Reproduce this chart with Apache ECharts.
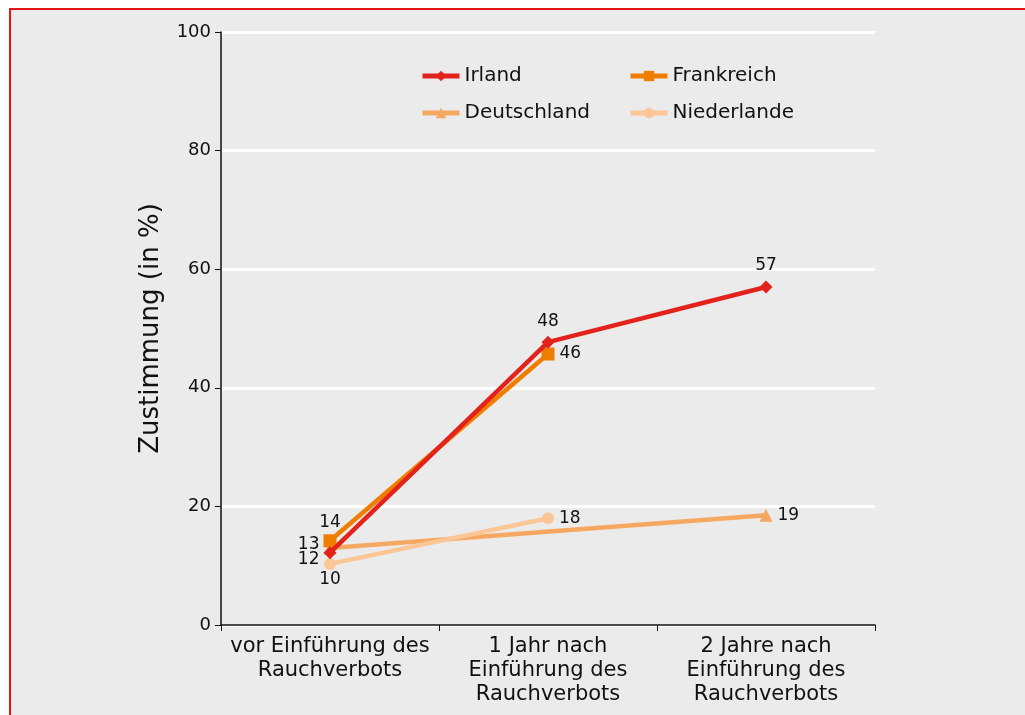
<!DOCTYPE html>
<html>
<head>
<meta charset="utf-8">
<script src="https://cdn.jsdelivr.net/npm/echarts@6/dist/echarts.min.js"></script>
<style>
  html, body { margin: 0; padding: 0; background: #fff; }
  #frame { position: absolute; left: 9px; top: 8px; width: 1100px; height: 800px;
           background: #ebebeb; border-left: 2px solid #e3141b; border-top: 2px solid #e3141b; box-sizing: border-box; }
  #chart { position: absolute; left: 0; top: 0; width: 1025px; height: 715px; }
</style>
</head>
<body>
<div id="frame"></div>
<div id="chart"></div>
<script>
const categories = ['vor Einführung des\nRauchverbots', '1 Jahr nach\nEinführung des\nRauchverbots', '2 Jahre nach\nEinführung des\nRauchverbots'];
const irland = [12.2, 47.7, 57.0];
const frankreich = [14.2, 45.7, null];
const deutschland = [13.0, null, 18.5];
const niederlande = [10.3, 18.0, null];

const font = '"DejaVu Sans", sans-serif';

// label setup per point: [position, distance, offsetY]
const withLabels = (values, labels) =>
    values.map((v, i) => v === null ? null : {
        value: v,
        label: { position: labels[i][0], distance: labels[i][1], offset: [0, labels[i][2]] }
    });

const mkSeries = (name, values, labels, color, symbol, z, connect) => ({
    name, type: 'line', data: withLabels(values, labels), z,
    connectNulls: !!connect,
    symbol, symbolSize: symbol === 'circle' ? 12 : 13,
    lineStyle: { color, width: 4.5 },
    itemStyle: { color },
    label: {
        show: true, color: '#111', fontSize: 17, fontFamily: font,
        formatter: p => Math.round(p.value)
    }
});

const chart = echarts.init(document.getElementById('chart'));

const legendBase = (name, left, top) => ({
    data: [name], left, top, itemWidth: 37, itemHeight: 13,
    lineStyle: { width: 5 },
    textStyle: { fontSize: 20, fontFamily: font, color: '#111' }
});

chart.setOption({
    backgroundColor: 'transparent',
    animation: false,
    legend: [
        legendBase('Irland', 415, 61),
        legendBase('Frankreich', 623, 61),
        legendBase('Deutschland', 415, 98),
        legendBase('Niederlande', 623, 98)
    ],
    grid: { left: 221, right: 150, top: 32, bottom: 90 },
    xAxis: {
        type: 'category', data: categories, boundaryGap: true,
        axisLine: { lineStyle: { color: '#111', width: 1.5 } },
        axisTick: { show: true, interval: 0, length: 6, lineStyle: { color: '#111' } },
        axisLabel: { interval: 0, fontSize: 21, fontFamily: font, color: '#111', lineHeight: 24, margin: 10 }
    },
    yAxis: {
        type: 'value', min: 0, max: 100, interval: 20,
        name: 'Zustimmung (in %)', nameLocation: 'middle', nameGap: 57,
        nameTextStyle: { fontSize: 26, fontFamily: font, color: '#111' },
        axisLine: { show: true, lineStyle: { color: '#111', width: 1.5 } },
        axisTick: { show: true, length: 6, lineStyle: { color: '#111' } },
        axisLabel: { fontSize: 18, fontFamily: font, color: '#111', margin: 10 },
        splitLine: { lineStyle: { color: '#fff', width: 3 } }
    },
    series: [
        mkSeries('Deutschland', deutschland, [['left', 4, -3], ['right', 5, 0], ['right', 5, 0]], '#f6a860', 'triangle', 3, true),
        mkSeries('Niederlande', niederlande, [['bottom', 1, 0], ['right', 5, 0], ['right', 5, 0]], '#fcc697', 'circle', 4),
        mkSeries('Frankreich', frankreich, [['top', 3, 0], ['right', 5, 0], ['right', 5, 0]], '#ef7d00', 'rect', 5),
        mkSeries('Irland', irland, [['left', 4, 7], ['top', 6, 0], ['top', 6, 0]], '#e3231b', 'diamond', 6)
    ]
});
</script>
</body>
</html>
